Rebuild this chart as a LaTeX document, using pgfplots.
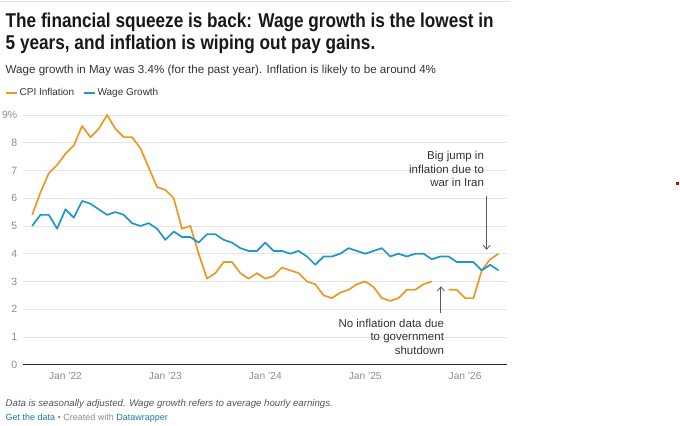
\documentclass[border=0pt]{standalone}
\usepackage{fontspec}
\setmainfont{Liberation Sans}
\newfontfamily\titlefont[FakeStretch=0.86]{Liberation Sans}
\usepackage{pgfplots}
\pgfplotsset{compat=1.18}
\usepackage{pgfplotstable}
\usetikzlibrary{arrows.meta}
\definecolor{cpi}{RGB}{236,152,35}
\definecolor{wage}{RGB}{30,152,196}
\definecolor{txt}{RGB}{24,24,24}
\definecolor{sub}{RGB}{51,51,51}
\definecolor{tickc}{RGB}{140,140,140}
\definecolor{gridc}{RGB}{229,229,229}
\definecolor{linkc}{RGB}{30,120,165}
\definecolor{foot}{RGB}{85,85,85}

% month index: 0 = Jan 2022
\pgfplotstableread{
m cpi
-4 5.4
-3 6.2
-2 6.9
-1 7.2
0 7.6
1 7.9
2 8.6
3 8.2
4 8.5
5 9.0
6 8.5
7 8.2
8 8.2
9 7.8
10 7.1
11 6.4
12 6.3
13 6.0
14 4.9
15 5.0
16 4.0
17 3.1
18 3.3
19 3.7
20 3.7
21 3.3
22 3.1
23 3.3
24 3.1
25 3.2
26 3.5
27 3.4
28 3.3
29 3.0
30 2.9
31 2.5
32 2.4
33 2.6
34 2.7
35 2.9
36 3.0
37 2.8
38 2.4
39 2.3
40 2.4
41 2.7
42 2.7
43 2.9
44 3.0
45 nan
46 2.7
47 2.7
48 2.4
49 2.4
50 3.4
51 3.8
52 4.0
}\cpidata

\pgfplotstableread{
m wage
-4 5.0
-3 5.4
-2 5.4
-1 4.9
0 5.6
1 5.3
2 5.9
3 5.8
4 5.6
5 5.4
6 5.5
7 5.4
8 5.1
9 5.0
10 5.1
11 4.9
12 4.5
13 4.8
14 4.6
15 4.6
16 4.4
17 4.7
18 4.7
19 4.5
20 4.4
21 4.2
22 4.1
23 4.1
24 4.4
25 4.1
26 4.1
27 4.0
28 4.1
29 3.9
30 3.6
31 3.9
32 3.9
33 4.0
34 4.2
35 4.1
36 4.0
37 4.1
38 4.2
39 3.9
40 4.0
41 3.9
42 4.0
43 4.0
44 3.8
45 3.9
46 3.9
47 3.7
48 3.7
49 3.7
50 3.4
51 3.6
52 3.4
}\wagedata

\begin{document}
\begin{tikzpicture}[x=1pt,y=1pt]
\path (0,0) rectangle (680,-426);
\coordinate (A) at (23,-365);
\draw[gray!25, line width=1pt] (0,-1) -- (510,-1);
\fill[red!80!black] (675.5,-182) rectangle (678.5,-185);

\node[anchor=base west, inner sep=0, text=txt, font=\titlefont\fontsize{20}{24}\selectfont\bfseries] at (5,-28) {The financial squeeze is back: Wage growth is the lowest in};
\node[anchor=base west, inner sep=0, text=txt, font=\titlefont\fontsize{20}{24}\selectfont\bfseries] at (5,-50) {5 years, and inflation is wiping out pay gains.};
\node[anchor=base west, inner sep=0, text=sub, font=\fontsize{11.6}{14}\selectfont] at (5,-74) {Wage growth in May was 3.4\% (for the past year). Inflation is likely to be around 4\%};

\begin{axis}[
  at={(A)}, anchor=south west,
  scale only axis, width=484pt, height=250pt,
  xmin=-5.04, xmax=53.04, ymin=0, ymax=9,
  clip=false,
  axis x line=bottom, axis y line=left,
  axis line style={draw=none},
  major tick length=0pt,
  ytick={0,1,2,3,4,5,6,7,8,9},
  yticklabels={0,1,2,3,4,5,6,7,8,9\%},
  yticklabel style={anchor=east, inner sep=0pt, xshift=-6pt, text=tickc, font=\fontsize{10.5}{12}\selectfont},
  xtick={0,12,24,36,48},
  xticklabels={Jan ’22,Jan ’23,Jan ’24,Jan ’25,Jan ’26},
  xticklabel style={anchor=base, inner sep=0pt, yshift=-15pt, text=tickc, font=\fontsize{10.2}{12}\selectfont},
  /pgf/number format/assume math mode=true,
  ymajorgrids, grid style={gridc, line width=0.8pt},
  unbounded coords=jump,
  legend columns=-1,
  legend style={at={(-0.0372,1.088)}, anchor=west, draw=none, fill=none, inner sep=0pt,
    font=\fontsize{10}{12}\selectfont, text=sub,
    /tikz/every even column/.append style={column sep=8pt},
    nodes={inner sep=1.5pt}},
  legend image code/.code={\draw[#1, line width=1.5pt] (0pt,0pt) -- (11pt,0pt);},
]
\draw[black!85, line width=1pt] (axis cs:-5.04,0) -- (axis cs:53.04,0);
\addplot[cpi, line width=1.7pt, line join=round] table[x=m, y=cpi] {\cpidata};
\addlegendentry{CPI Inflation}
\addplot[wage, line width=1.7pt, line join=round] table[x=m, y=wage] {\wagedata};
\addlegendentry{Wage Growth}
\end{axis}

% annotations
\begin{scope}[every node/.style={anchor=base east, inner sep=0, text=sub, font=\fontsize{11.5}{14}\selectfont}]
\node at (484,-160) {Big jump in};
\node at (484,-173.5) {inflation due to};
\node at (484,-187) {war in Iran};
\node at (444,-327.5) {No inflation data due};
\node at (444,-341) {to government};
\node at (444,-354.5) {shutdown};
\end{scope}
\draw[black!65, line width=0.8pt, -{Straight Barb[length=4pt,width=7pt]}] (486.5,-196) -- (486.5,-250);
\draw[black!65, line width=0.8pt, -{Straight Barb[length=4pt,width=7pt]}] (440.7,-313) -- (440.7,-286.5);

% footer
\node[anchor=base west, inner sep=0, text=foot, font=\fontsize{9.65}{12}\selectfont\itshape] at (5,-407) {Data is seasonally adjusted. Wage growth refers to average hourly earnings.};
\node[anchor=base west, inner sep=0, font=\fontsize{9}{12}\selectfont] at (5,-421) {\textcolor{linkc}{Get the data} \textcolor{tickc}{• Created with} \textcolor{linkc}{Datawrapper}};
\end{tikzpicture}
\end{document}
